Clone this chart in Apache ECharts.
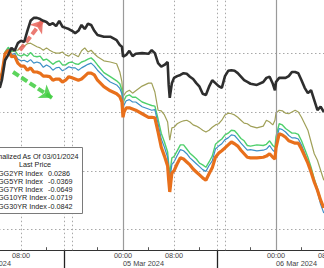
<!DOCTYPE html>
<html><head><meta charset="utf-8">
<script src="https://cdn.jsdelivr.net/npm/echarts@6/dist/echarts.min.js"></script>
<style>html,body{margin:0;padding:0;background:#fff}#c{width:324px;height:268px}</style>
</head><body><div id="c"></div>
<script>
const times = [
'2024-03-04 04:40','2024-03-04 05:00','2024-03-04 05:30','2024-03-04 06:00','2024-03-04 06:30','2024-03-04 07:00','2024-03-04 07:30','2024-03-04 08:00','2024-03-04 08:30','2024-03-04 09:00',
'2024-03-04 09:30','2024-03-04 10:00','2024-03-04 10:30','2024-03-04 11:00','2024-03-04 11:30','2024-03-04 12:00','2024-03-04 12:30','2024-03-04 13:00','2024-03-04 13:30','2024-03-04 14:00',
'2024-03-04 14:30','2024-03-04 15:00','2024-03-04 15:30','2024-03-04 16:00','2024-03-04 16:30','2024-03-04 17:00','2024-03-04 17:30','2024-03-04 18:00','2024-03-04 18:30','2024-03-04 19:00',
'2024-03-04 19:30','2024-03-04 20:00','2024-03-04 21:00','2024-03-04 22:00','2024-03-04 23:00','2024-03-04 23:30','2024-03-04 23:50','2024-03-05 00:00','2024-03-05 00:10','2024-03-05 00:30',
'2024-03-05 01:00','2024-03-05 01:30','2024-03-05 02:00','2024-03-05 03:00','2024-03-05 04:00','2024-03-05 04:30','2024-03-05 05:00','2024-03-05 05:30','2024-03-05 06:00','2024-03-05 06:30',
'2024-03-05 07:00','2024-03-05 07:10','2024-03-05 07:20','2024-03-05 07:40','2024-03-05 08:00','2024-03-05 08:30','2024-03-05 09:00','2024-03-05 09:30','2024-03-05 10:00','2024-03-05 10:30',
'2024-03-05 11:00','2024-03-05 11:30','2024-03-05 12:00','2024-03-05 12:30','2024-03-05 13:00','2024-03-05 13:30','2024-03-05 14:00','2024-03-05 14:30','2024-03-05 15:00','2024-03-05 15:30',
'2024-03-05 16:00','2024-03-05 16:30','2024-03-05 17:00','2024-03-05 17:30','2024-03-05 18:00','2024-03-05 18:30','2024-03-05 19:00','2024-03-05 19:30','2024-03-05 20:00','2024-03-05 21:00',
'2024-03-05 22:00','2024-03-05 22:30','2024-03-05 23:00','2024-03-05 23:30','2024-03-05 23:50','2024-03-06 00:00','2024-03-06 00:30','2024-03-06 01:00','2024-03-06 01:30','2024-03-06 02:00',
'2024-03-06 02:30','2024-03-06 03:00','2024-03-06 03:30','2024-03-06 04:00','2024-03-06 04:30','2024-03-06 05:00','2024-03-06 05:30','2024-03-06 06:00','2024-03-06 06:30','2024-03-06 07:00',
'2024-03-06 07:30'];

const gg2yr = [
0.041,0.054,0.088,0.097,0.109,0.104,0.117,0.121,0.119,0.138,
0.155,0.160,0.160,0.158,0.155,0.153,0.148,0.151,0.146,0.155,
0.145,0.143,0.141,0.138,0.134,0.138,0.148,0.141,0.150,0.148,
0.138,0.131,0.128,0.128,0.122,0.114,0.111,0.094,0.095,0.097,
0.104,0.095,0.099,0.100,0.099,0.105,0.100,0.083,0.077,0.080,
0.085,0.046,0.024,0.049,0.058,0.061,0.063,0.066,0.065,0.060,
0.056,0.049,0.043,0.031,0.029,0.043,0.054,0.049,0.044,0.041,
0.061,0.070,0.071,0.070,0.066,0.060,0.054,0.051,0.048,0.046,
0.051,0.058,0.060,0.048,0.037,0.051,0.058,0.058,0.058,0.061,
0.068,0.068,0.066,0.054,0.041,0.032,0.037,0.020,0.003,0.009,0.000];

const gg5yr = [
0.054,0.066,0.100,0.105,0.102,0.105,0.105,0.111,0.112,0.116,
0.117,0.114,0.111,0.109,0.105,0.109,0.105,0.102,0.100,0.100,
0.102,0.097,0.095,0.100,0.097,0.094,0.104,0.109,0.102,0.105,
0.099,0.094,0.087,0.085,0.082,0.068,0.051,0.026,0.029,0.034,
0.037,0.032,0.036,0.044,0.049,0.049,0.034,0.003,0.002,-0.005,
-0.017,-0.034,-0.048,-0.027,-0.026,-0.020,-0.017,-0.015,-0.014,-0.017,
-0.022,-0.024,-0.027,-0.031,-0.034,-0.031,-0.026,-0.022,-0.020,-0.014,
-0.005,-0.002,-0.003,-0.005,-0.009,-0.014,-0.019,-0.020,-0.024,-0.027,
-0.024,-0.014,-0.017,-0.022,-0.014,-0.002,0.003,0.002,-0.002,-0.003,
0.000,0.003,0.000,-0.009,-0.020,-0.031,-0.051,-0.071,-0.082,-0.099,-0.116];

const gg7yr = [
0.057,0.068,0.102,0.110,0.103,0.105,0.097,0.095,0.098,0.095,
0.101,0.095,0.094,0.095,0.088,0.090,0.086,0.081,0.085,0.087,
0.080,0.080,0.084,0.085,0.082,0.081,0.085,0.087,0.090,0.092,
0.087,0.080,0.067,0.060,0.053,0.048,0.037,0.013,0.020,0.027,
0.029,0.025,0.025,0.017,0.013,0.011,0.010,-0.012,-0.036,-0.051,
-0.068,-0.089,-0.105,-0.078,-0.076,-0.066,-0.056,-0.056,-0.063,-0.070,
-0.075,-0.080,-0.087,-0.090,-0.094,-0.085,-0.075,-0.055,-0.050,-0.046,
-0.039,-0.036,-0.031,-0.032,-0.038,-0.045,-0.049,-0.057,-0.058,-0.056,
-0.057,-0.055,-0.049,-0.057,-0.060,-0.042,-0.020,-0.022,-0.028,-0.032,
-0.036,-0.036,-0.038,-0.049,-0.063,-0.077,-0.094,-0.114,-0.130,-0.148,-0.163];

const gg10yr = [
0.056,0.067,0.101,0.107,0.097,0.100,0.090,0.087,0.088,0.085,
0.089,0.083,0.085,0.083,0.076,0.080,0.077,0.071,0.075,0.076,
0.070,0.073,0.077,0.075,0.075,0.071,0.075,0.078,0.081,0.083,
0.078,0.071,0.060,0.051,0.046,0.040,0.031,0.005,0.012,0.019,
0.021,0.017,0.017,0.009,0.005,0.003,0.004,-0.020,-0.046,-0.060,
-0.077,-0.099,-0.116,-0.089,-0.085,-0.074,-0.064,-0.066,-0.071,-0.078,
-0.083,-0.088,-0.093,-0.098,-0.101,-0.091,-0.083,-0.063,-0.058,-0.054,
-0.047,-0.044,-0.039,-0.040,-0.046,-0.053,-0.059,-0.065,-0.064,-0.066,
-0.065,-0.063,-0.057,-0.065,-0.068,-0.051,-0.028,-0.030,-0.034,-0.040,
-0.044,-0.044,-0.046,-0.056,-0.070,-0.084,-0.100,-0.119,-0.136,-0.157,-0.172];

const gg30yr = [
0.054,0.065,0.099,0.105,0.094,0.095,0.083,0.078,0.078,0.071,
0.075,0.068,0.068,0.066,0.061,0.061,0.060,0.054,0.056,0.056,
0.051,0.054,0.060,0.058,0.056,0.054,0.056,0.061,0.066,0.066,
0.063,0.054,0.043,0.036,0.031,0.026,0.017,-0.009,0.000,0.007,
0.007,0.005,0.003,-0.003,-0.009,-0.009,-0.010,-0.034,-0.060,-0.075,
-0.092,-0.116,-0.136,-0.104,-0.100,-0.088,-0.078,-0.080,-0.085,-0.090,
-0.097,-0.102,-0.107,-0.112,-0.116,-0.105,-0.095,-0.077,-0.070,-0.066,
-0.061,-0.056,-0.051,-0.054,-0.058,-0.065,-0.071,-0.077,-0.078,-0.078,
-0.077,-0.075,-0.071,-0.077,-0.080,-0.061,-0.037,-0.039,-0.043,-0.049,
-0.051,-0.053,-0.053,-0.063,-0.075,-0.087,-0.102,-0.119,-0.133,-0.150,-0.163];

const seriesNames = ['GG2YR Index','GG5YR Index','GG7YR Index','GG10YR Index','GG30YR Index'];
const lastPrices = ['0.0286','-0.0369','-0.0649','-0.0719','-0.0842'];
const legendTitle = 'Normalized As Of 03/01/2024';
const legendHeader = 'Last Price';

const dayLabels = ['04 Mar 2024','05 Mar 2024','06 Mar 2024'];
const labelHours = [8, 24, 32, 48, 56];   // hours from 04 Mar 00:00
const dayHours = [0, 24, 48];
const minorTickHours = [4, 12, 20, 28, 36, 44, 52];
const dottedGridHours = [8, 14.75, 16, 32, 38.75, 40];
const sessionHours = [14.75, 38.75];

const arrows = [
  {from: ['2024-03-04 07:50', 0.105], to: ['2024-03-04 11:27', 0.156], color: '#e8645a'},
  {from: ['2024-03-04 06:45', 0.068], to: ['2024-03-04 12:52', 0.024], color: '#3fcc3f'}
];

const base = Date.parse('2024-03-04T00:00:00');
const hrs = t => (Date.parse(t.replace(' ', 'T') + ':00') - base) / 3600000;
const X = times.map(hrs);
const pair = arr => arr.map((v, i) => [X[i], v]);

const FONT = '"Liberation Sans", Arial, sans-serif';
const chart = echarts.init(document.getElementById('c'), null, {renderer: 'svg'});

const lineS = (name, data, color, width, z) => ({
  name, type: 'line', data: pair(data), showSymbol: false, symbol: 'none',
  lineStyle: {color, width}, itemStyle: {color}, z, animation: false
});

const black = lineS(seriesNames[0], gg2yr, '#2e2e2e', 2.6, 6);
black.markLine = {
  silent: true, symbol: ['none', 'arrow'], symbolSize: 12, animation: false,
  label: {show: false},
  data: arrows.map(a => [
    {coord: [hrs(a.from[0]), a.from[1]], lineStyle: {color: a.color, width: 4, type: [7, 3], opacity: 0.85}},
    {coord: [hrs(a.to[0]), a.to[1]]}
  ])
};
const olive = lineS(seriesNames[1], gg5yr, '#a0a058', 1.2, 2);
olive.markLine = {
  silent: true, symbol: 'none', animation: false, label: {show: false},
  data: dottedGridHours.map(h => ({xAxis: h, lineStyle: {color: '#a8a8a8', width: 1, type: [1.5, 2.5]}}))
    .concat(dayHours.map(h => ({xAxis: h, lineStyle: {color: '#9a9a9a', width: 1.2, type: 'solid'}})))
};

const legendY0 = 173, legendDy = 8.3;
const graphicEls = [
  {type: 'rect', shape: {x: -14, y: 147.5, width: 96.5, height: 66}, style: {fill: '#fff', stroke: '#7a7a7a', lineWidth: 1}, z: 100},
  {type: 'text', x: 78.5, y: 156, z: 101, style: {text: legendTitle, font: '7.2px ' + FONT, fill: '#222', textAlign: 'right', align: 'right', textVerticalAlign: 'middle', verticalAlign: 'middle'}},
  {type: 'text', x: 35, y: 164.6, z: 101, style: {text: legendHeader, font: '7.2px ' + FONT, fill: '#222', textAlign: 'center', align: 'center', textVerticalAlign: 'middle', verticalAlign: 'middle'}}
];
seriesNames.forEach((n, i) => {
  graphicEls.push({type: 'text', x: -2, y: legendY0 + i * legendDy, z: 101, style: {text: n, font: '7.2px ' + FONT, fill: '#222', textAlign: 'left', align: 'left', textVerticalAlign: 'middle', verticalAlign: 'middle'}});
  graphicEls.push({type: 'text', x: 48, y: legendY0 + i * legendDy, z: 101, style: {text: lastPrices[i], font: '7.2px ' + FONT, fill: '#222', textAlign: 'left', align: 'left', textVerticalAlign: 'middle', verticalAlign: 'middle'}});
});

const pad = n => (n < 10 ? '0' : '') + n;
const xMin = -8, xMax = 60;

chart.setOption({
  animation: false,
  backgroundColor: '#ffffff',
  grid: {left: -81, right: -28.5, top: -5.65, bottom: 17.8, containLabel: false, outerBoundsMode: 'none'},
  xAxis: [
    {type: 'value', min: xMin, max: xMax, position: 'bottom',
     axisLine: {show: true, onZero: false, lineStyle: {color: '#333', width: 1}},
     axisTick: {show: true, customValues: minorTickHours, inside: true, length: 3, lineStyle: {color: '#555'}},
     axisLabel: {show: true, customValues: labelHours, margin: 2, fontSize: 7.3, fontFamily: FONT, color: '#444',
       formatter: v => pad(((v % 24) + 24) % 24) + ':00'},
     splitLine: {show: false}},
    {type: 'value', min: xMin, max: xMax, position: 'bottom',
     axisLine: {show: false, onZero: false},
     axisTick: {show: true, customValues: sessionHours, length: 20, lineStyle: {color: '#222', width: 1.3}},
     axisLabel: {show: true, customValues: dayHours, margin: 10, fontSize: 7.3, fontFamily: FONT, color: '#444', align: 'left',
       formatter: v => dayLabels[Math.round(v / 24)] || ''},
     splitLine: {show: false}}
  ],
  yAxis: {type: 'value', min: -0.235, max: 0.2, splitNumber: 5,
    axisLine: {show: false}, axisTick: {show: false}, axisLabel: {show: false},
    splitLine: {show: true, lineStyle: {color: '#a8a8a8', width: 1, type: [1.5, 2.5]}}},
  series: [
    olive,
    lineS(seriesNames[2], gg7yr, '#4fd06c', 1.4, 3),
    lineS(seriesNames[3], gg10yr, '#3d8fc6', 1.2, 4),
    lineS(seriesNames[4], gg30yr, '#e8701c', 3.2, 5),
    black
  ],
  graphic: {elements: graphicEls}
});
</script></body></html>
